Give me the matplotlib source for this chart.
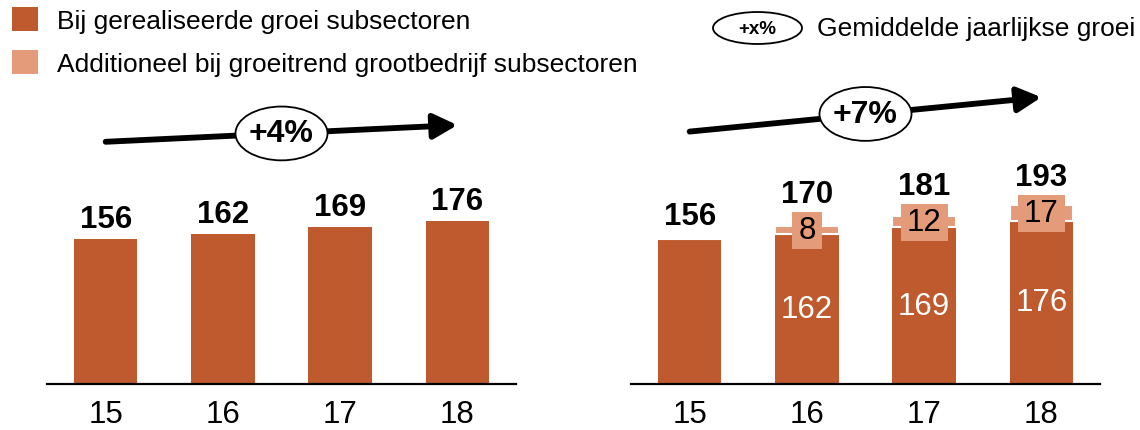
"""Two-panel bar chart: realised growth vs. additional growth per subsector."""

import matplotlib.pyplot as plt
from matplotlib.patches import Ellipse, Patch
from matplotlib.path import Path

plt.switch_backend("Agg")
plt.rcParams["font.family"] = ["Liberation Sans", "DejaVu Sans"]

DARK = "#BE5A2D"
LIGHT = "#E39B7A"

years = ["15", "16", "17", "18"]
realised = [156, 162, 169, 176]
additional = [0, 8, 12, 17]
growth_left = "+4%"
growth_right = "+7%"

# arrow end heights (in value units) for the trend arrows
trend_left = (261, 279)
trend_right = (272, 309)
badge_left_y = 270
badge_right_y = 291

legend_labels = [
    "Bij gerealiseerde groei subsectoren",
    "Additioneel bij groeitrend grootbedrijf subsectoren",
]
badge_legend = "Gemiddelde jaarlijkse groei"

W, H = 1140, 431
fig = plt.figure(figsize=(W / 100, H / 100), dpi=100)

YMAX = 320
BASE_PX = 385
SCALE = 0.928  # pixels per unit
top_px = BASE_PX - YMAX * SCALE


def make_axes(left_px, right_px):
    ax = fig.add_axes([left_px / W, (H - BASE_PX) / H,
                       (right_px - left_px) / W, (BASE_PX - top_px) / H])
    ax.set_xlim(-0.5, 3.5)
    ax.set_ylim(0, YMAX)
    for side in ("top", "left", "right"):
        ax.spines[side].set_visible(False)
    ax.spines["bottom"].set_linewidth(1.6)
    ax.set_yticks([])
    ax.set_xticks(range(len(years)))
    ax.set_xticklabels(years, fontsize=22.5)
    ax.tick_params(axis="x", length=0, pad=11)
    return ax


def padded_box(px, py):
    """Rectangle box style with separate horizontal/vertical padding (pixels)."""
    def style(x0, y0, width, height, mutation_size):
        x0 -= px
        y0 -= py + 1
        x1 = x0 + width + 2 * px
        y1 = y0 + height + 2 * py
        return Path([(x0, y0), (x1, y0), (x1, y1), (x0, y1), (x0, y0)],
                    closed=True)
    return style


def trend(ax, ys, badge_y, text):
    ax.annotate("", xy=(3, ys[1]), xytext=(0, ys[0]),
                arrowprops=dict(arrowstyle="-|>,head_length=0.8,head_width=0.42",
                                lw=4.2, color="black", mutation_scale=18,
                                shrinkA=0, shrinkB=0),
                annotation_clip=False)
    ax.add_patch(Ellipse((1.5, badge_y), 0.785, 58, facecolor="white",
                         edgecolor="black", lw=1.3, zorder=5, clip_on=False))
    ax.text(1.5, badge_y, text, ha="center", va="center", fontsize=23,
            fontweight="bold", zorder=6)


xs = list(range(len(years)))

# left panel: realised growth only
ax1 = make_axes(47, 516)
ax1.bar(xs, realised, width=0.54, color=DARK)
for x, v in zip(xs, realised):
    ax1.annotate(str(v), (x, v), xytext=(0, 8.5), textcoords="offset points",
                 ha="center", va="baseline", fontsize=22.5, fontweight="bold")
trend(ax1, trend_left, badge_left_y, growth_left)

# right panel: realised + additional growth stacked
ax2 = make_axes(631, 1100)
ax2.bar(xs, realised, width=0.54, color=DARK)
ax2.bar(xs, additional, bottom=realised, width=0.54, color=LIGHT,
        edgecolor="white", linewidth=1.5)
for x, base, extra in zip(xs, realised, additional):
    total = base + extra
    if extra:
        ax2.text(x, base / 2, str(base), ha="center", va="center",
                 fontsize=22.5, color="white")
        mid = base + extra / 2
        ax2.text(x, mid, str(extra), ha="center", va="center", fontsize=22.5,
                 bbox=dict(boxstyle=padded_box(6, 3.5), facecolor=LIGHT,
                           edgecolor="none"))
        ax2.annotate(str(total), (x, mid), xytext=(0, 20),
                     textcoords="offset points", ha="center", va="baseline",
                     fontsize=22.5, fontweight="bold")
    else:
        ax2.annotate(str(total), (x, total), xytext=(0, 11),
                     textcoords="offset points", ha="center", va="baseline",
                     fontsize=22.5, fontweight="bold")
trend(ax2, trend_right, badge_right_y, growth_right)

# legends
handles = [Patch(facecolor=DARK), Patch(facecolor=LIGHT)]
fig.legend(handles, legend_labels, loc="upper left",
           bbox_to_anchor=(12 / W, 1 - 8 / H), frameon=False, fontsize=19,
           handlelength=1.0, handleheight=1.0, handletextpad=0.7,
           labelspacing=0.66, borderpad=0, borderaxespad=0)

fig.patches.append(Ellipse((757.5 / W, 1 - 29 / H), 89 / W, 32 / H,
                           transform=fig.transFigure, facecolor="white",
                           edgecolor="black", lw=1.3))
fig.text(757.5 / W, 1 - 29 / H, "+x%", ha="center", va="center",
         fontsize=13.5, fontweight="bold")
fig.text(817 / W, 1 - 29 / H, badge_legend, ha="left", va="center",
         fontsize=19)

fig.savefig("out.png", dpi=100)
